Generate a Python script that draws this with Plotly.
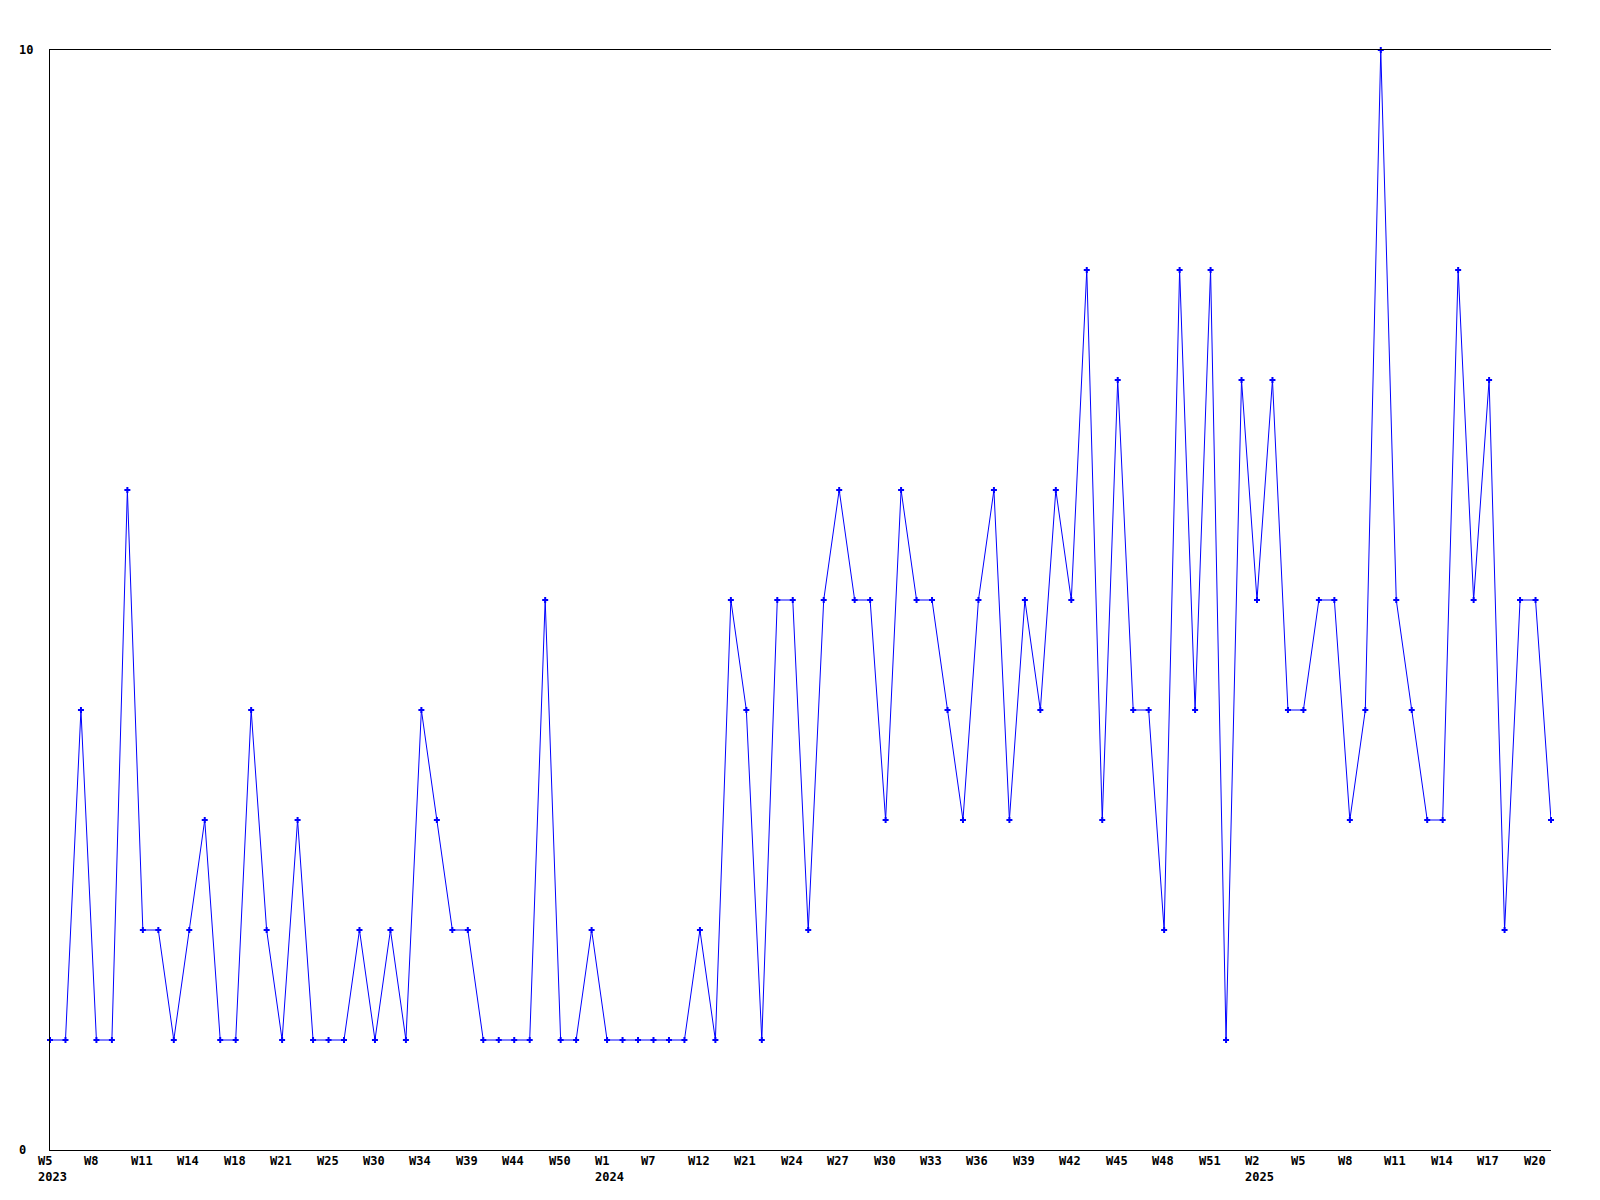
import plotly.graph_objects as go

# Weekly counts (one value per plotted week, in order)
values = [
    1, 1, 4, 1, 1, 6, 2, 2, 1, 2,
    3, 1, 1, 4, 2, 1, 3, 1, 1, 1,
    2, 1, 2, 1, 4, 3, 2, 2, 1, 1,
    1, 1, 5, 1, 1, 2, 1, 1, 1, 1,
    1, 1, 2, 1, 5, 4, 1, 5, 5, 2,
    5, 6, 5, 5, 3, 6, 5, 5, 4, 3,
    5, 6, 3, 5, 4, 6, 5, 8, 3, 7,
    4, 4, 2, 8, 4, 8, 1, 7, 5, 7,
    4, 4, 5, 5, 3, 4, 10, 5, 4, 3,
    3, 8, 5, 7, 2, 5, 5, 3,
]

# Tick labels (every third point) and the year shown under the first week of each year
tick_labels = [
    "W5", "W8", "W11", "W14", "W18", "W21", "W25", "W30", "W34", "W39", "W44", "W50",
    "W1", "W7", "W12", "W21", "W24", "W27", "W30", "W33", "W36", "W39", "W42", "W45",
    "W48", "W51", "W2", "W5", "W8", "W11", "W14", "W17", "W20",
]
tick_years = {0: "2023", 12: "2024", 26: "2025"}
tick_step = 3

y_ticks = [0, 10]

x = list(range(len(values)))

FONT = dict(family="DejaVu Sans Mono", size=12, color="black")

fig = go.Figure()
fig.add_trace(go.Scatter(
    x=x, y=values, mode="lines+markers",
    line=dict(color="#0000FF", width=1),
    marker=dict(symbol="cross", size=5, color="#0000FF"),
    cliponaxis=False,
    hoverinfo="skip",
))

annotations = []
for k, lab in enumerate(tick_labels):
    text = "<b>" + lab + "</b>"
    if k in tick_years:
        text += "<br><b>" + tick_years[k] + "</b>"
    annotations.append(dict(
        x=k * tick_step, y=0, xref="x", yref="paper",
        text=text, showarrow=False, xanchor="left", yanchor="top",
        align="left", xshift=-14, yshift=-2, font=FONT,
    ))
for v in y_ticks:
    annotations.append(dict(
        x=0, y=v, xref="paper", yref="y",
        text="<b>" + str(v) + "</b>", showarrow=False,
        xanchor="left", yanchor="middle", xshift=-33, font=FONT,
    ))

fig.update_layout(
    width=1600, height=1200,
    margin=dict(l=42, r=57, t=42, b=58),
    paper_bgcolor="white", plot_bgcolor="white",
    showlegend=False,
    annotations=annotations,
    xaxis=dict(range=[0, len(values) - 1], showgrid=False, zeroline=False,
               showticklabels=False, ticks="", showline=True, mirror=True,
               linecolor="black", linewidth=1),
    yaxis=dict(range=[0, 10], showgrid=False, zeroline=False,
               showticklabels=False, ticks="", showline=True, mirror=False,
               linecolor="black", linewidth=1),
)

fig.write_html("out.html")
